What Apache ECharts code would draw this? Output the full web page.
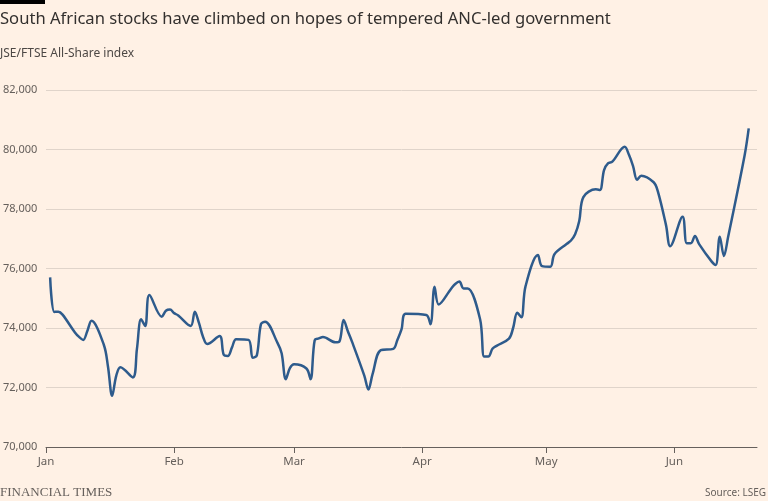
<!DOCTYPE html>
<html>
<head>
<meta charset="utf-8">
<script src="https://cdn.jsdelivr.net/npm/echarts@6/dist/echarts.min.js"></script>
<style>
html,body{margin:0;padding:0;background:#FFF1E5;}
#chart{width:768px;height:501px;}
</style>
</head>
<body>
<div id="chart"></div>
<script>
const titleText = 'South African stocks have climbed on hopes of tempered ANC-led government';
const subtitleText = 'JSE/FTSE All-Share index';
const sourceText = 'Source: LSEG';
const brandText = 'FINANCIAL TIMES';

const dates = [
'2024-01-02','2024-01-03','2024-01-04','2024-01-05','2024-01-08','2024-01-09','2024-01-10','2024-01-11','2024-01-12',
'2024-01-15','2024-01-16','2024-01-17','2024-01-18','2024-01-19','2024-01-22','2024-01-23','2024-01-24','2024-01-25','2024-01-26',
'2024-01-29','2024-01-30','2024-01-31','2024-02-01','2024-02-02','2024-02-05','2024-02-06','2024-02-07','2024-02-08','2024-02-09',
'2024-02-12','2024-02-13','2024-02-14','2024-02-15','2024-02-16','2024-02-19','2024-02-20','2024-02-21','2024-02-22','2024-02-23',
'2024-02-26','2024-02-27','2024-02-28','2024-02-29','2024-03-01','2024-03-04','2024-03-05','2024-03-06','2024-03-07','2024-03-08',
'2024-03-11','2024-03-12','2024-03-13','2024-03-14','2024-03-15','2024-03-18','2024-03-19','2024-03-20','2024-03-22',
'2024-03-25','2024-03-26','2024-03-27','2024-03-28','2024-04-02','2024-04-03','2024-04-04','2024-04-05',
'2024-04-08','2024-04-09','2024-04-10','2024-04-11','2024-04-12','2024-04-15','2024-04-16','2024-04-17','2024-04-18','2024-04-19',
'2024-04-22','2024-04-23','2024-04-24','2024-04-25','2024-04-26','2024-04-29','2024-04-30','2024-05-02','2024-05-03',
'2024-05-06','2024-05-07','2024-05-08','2024-05-09','2024-05-10','2024-05-13','2024-05-14','2024-05-15','2024-05-16','2024-05-17',
'2024-05-20','2024-05-21','2024-05-22','2024-05-23','2024-05-24','2024-05-27','2024-05-28','2024-05-30','2024-05-31',
'2024-06-03','2024-06-04','2024-06-05','2024-06-06','2024-06-07','2024-06-10','2024-06-11','2024-06-12','2024-06-13','2024-06-14',
'2024-06-18','2024-06-19'
];
const values = [
75700,74540,74550,74450,73850,73700,73600,73900,74240,
73430,72700,71720,72400,72680,72340,73300,74290,74070,75110,
74380,74580,74620,74500,74420,74070,74550,74170,73700,73460,
73730,73100,73060,73350,73620,73600,73000,73080,74130,74210,
73500,73150,72280,72650,72780,72640,72280,73590,73650,73700,
73520,73550,74270,73900,73550,72400,71930,72450,73260,
73300,73600,73950,74480,74440,74130,75390,74790,
75320,75480,75560,75330,75330,74300,73040,73040,73300,73400,
73640,74000,74510,74360,75400,76450,76080,76060,76480,
76830,76940,77150,77600,78400,78660,78640,79310,79540,79590,
80090,79830,79450,78980,79120,78900,78600,77450,76750,
77740,76850,76850,77090,76820,76240,76120,77070,76420,77050,
79800,80710
];
const yTicks = [70000, 72000, 74000, 76000, 78000, 80000, 82000];
const monthLabels = ['Jan','Feb','Mar','Apr','May','Jun'];

const chart = echarts.init(document.getElementById('chart'), null, {renderer:'canvas'});
const fontFam = '"Noto Sans", "Open Sans", sans-serif';
chart.setOption({
  backgroundColor: '#FFF1E5',
  animation: false,
  textStyle: {fontFamily: fontFam},
  graphic: [
    {type:'rect', left:0, top:0, shape:{width:45, height:4}, style:{fill:'#000'}},
    {type:'text', left:0, top:11, style:{text:titleText, font:'16.6px ' + fontFam, fill:'#33302E'}},
    {type:'text', left:0, top:48, style:{text:subtitleText, font:'12px ' + fontFam, fill:'#4D4845'}},
    {type:'text', left:0, top:486, style:{text:brandText, font:'13px "Liberation Serif", "DejaVu Serif", serif', fill:'#66605C'}},
    {type:'text', right:2, top:488, style:{text:sourceText, font:'10px ' + fontFam, fill:'#66605C'}}
  ],
  grid: {left:45, right:11, top:90, bottom:54, containLabel:false},
  xAxis: {
    type:'time',
    min: '2024-01-01',
    max: '2024-06-21',
    minInterval: 28*86400000,
    maxInterval: 31*86400000,
    axisLine: {show:true, lineStyle:{color:'#66605C', width:1}},
    axisTick: {show:true, length:6, lineStyle:{color:'#66605C'}},
    splitLine: {show:false},
    axisLabel: {
      color:'#66605C', fontSize:11.5, margin:9, fontFamily: fontFam,
      formatter: function(v){ const d = new Date(v); return monthLabels[d.getMonth()] || ''; }
    }
  },
  yAxis: {
    type:'value',
    min: yTicks[0], max: yTicks[yTicks.length-1], interval: 2000,
    axisLine:{show:false}, axisTick:{show:false},
    splitLine:{show:true, lineStyle:{color:'#E0D4CA', width:1}},
    axisLabel:{
      color:'#66605C', fontSize:11, align:'left', margin:43, fontFamily: fontFam,
      formatter: function(v){ return v.toLocaleString('en-US'); }
    }
  },
  series: [{
    type:'line',
    data: dates.map((d,i)=>[d, values[i]]),
    showSymbol:false,
    smooth:0.35,
    lineStyle:{color:'#2E5B8C', width:2.5},
    itemStyle:{color:'#2E5B8C'}
  }]
});
</script>
</body>
</html>
